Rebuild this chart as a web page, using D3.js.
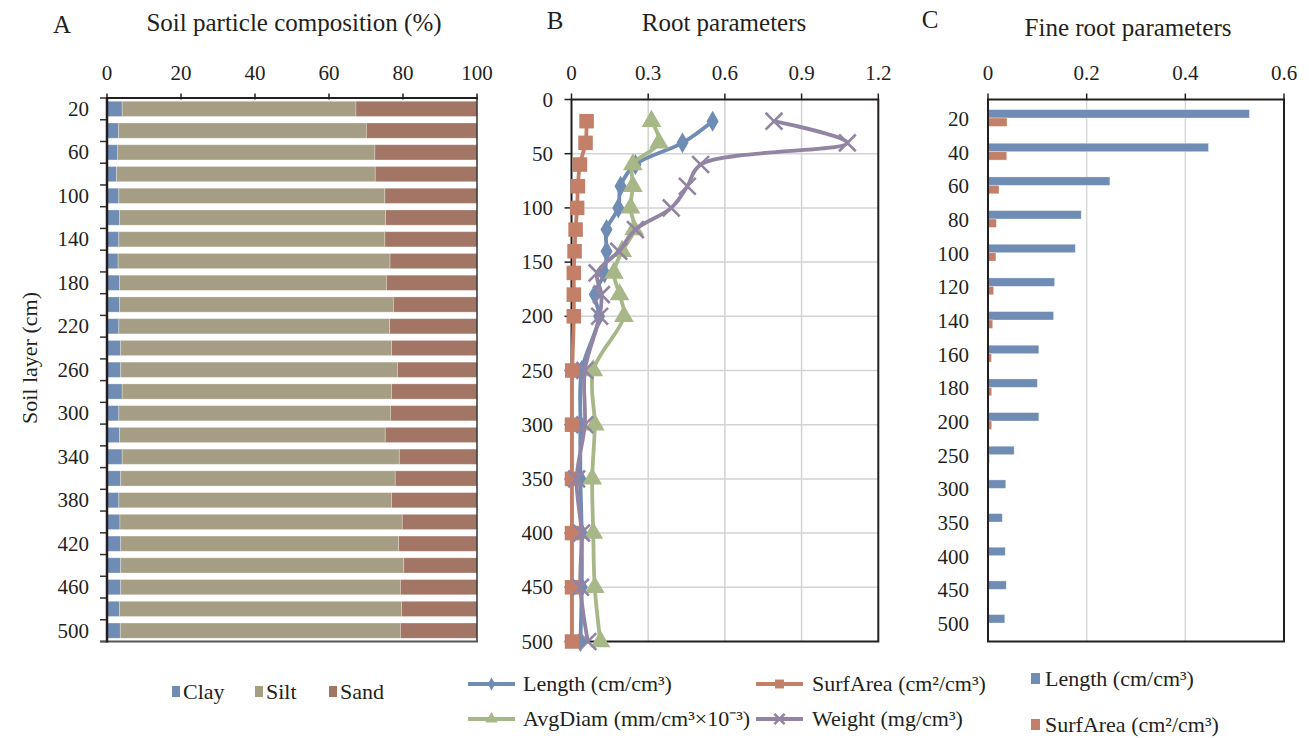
<!DOCTYPE html>
<html>
<head>
<meta charset="utf-8">
<script src="https://cdn.jsdelivr.net/npm/d3@7"></script>
<style>
  body { margin: 0; background: #fff; }
  svg { font-family: 'Liberation Serif', 'Times New Roman', serif; }
  text { fill: #231f20; }
</style>
</head>
<body>
<div class="chart"></div>
<script>
// panel A: soil particle composition
const depthsA = ['20', '40', '60', '80', '100', '120', '140', '160', '180', '200', '220', '240', '260',
  '280', '300', '320', '340', '360', '380', '400', '420', '440', '460', '480', '500'];
const clay = [4.1, 3.1, 2.9, 2.6, 3.2, 3.4, 3.2, 3.0, 3.4, 3.4, 3.2, 3.7, 3.7,
  4.1, 3.2, 3.4, 4.1, 3.7, 3.2, 3.5, 3.7, 3.7, 3.7, 3.4, 3.6];
const silt = [63.2, 67.0, 69.5, 69.9, 71.9, 71.9, 71.9, 73.5, 72.1, 74.0, 73.2, 73.2, 74.8,
  72.8, 73.4, 71.8, 74.9, 74.2, 73.7, 76.3, 75.1, 76.5, 75.6, 76.2, 75.7];
const sand = [32.7, 29.9, 27.6, 27.5, 24.9, 24.7, 24.9, 23.5, 24.5, 22.6, 23.6, 23.1, 21.5,
  23.1, 23.4, 24.8, 21.0, 22.1, 23.1, 20.2, 21.2, 19.8, 20.7, 20.4, 20.7];
const textureNames = ['Clay', 'Silt', 'Sand'];
const pctTicks = [0, 20, 40, 60, 80, 100];

// panel B: root parameters
const depthsB = [20, 40, 60, 80, 100, 120, 140, 160, 180, 200, 250, 300, 350, 400, 450, 500];
const rootLength = [0.552, 0.434, 0.250, 0.192, 0.183, 0.137, 0.137, 0.129, 0.091, 0.108, 0.040, 0.035, 0.035, 0.040, 0.040, 0.035];
const rootSurfArea = [0.059, 0.055, 0.033, 0.025, 0.022, 0.016, 0.012, 0.009, 0.009, 0.009, 0.003, 0.002, 0.002, 0.002, 0.002, 0.002];
const rootAvgDiam = [0.313, 0.342, 0.240, 0.240, 0.231, 0.245, 0.198, 0.166, 0.188, 0.205, 0.085, 0.091, 0.081, 0.085, 0.091, 0.113];
const rootWeight = [0.792, 1.079, 0.505, 0.453, 0.390, 0.250, 0.185, 0.100, 0.117, 0.110, 0.052, 0.052, 0.020, 0.039, 0.035, 0.064];
const rootNames = ['Length (cm/cm³)', 'SurfArea (cm²/cm³)', 'AvgDiam (mm/cm³×10⁻³)', 'Weight (mg/cm³)'];
const rootTicksX = [0, 0.3, 0.6, 0.9, 1.2];
const rootTicksY = [0, 50, 100, 150, 200, 250, 300, 350, 400, 450, 500];

// panel C: fine root parameters
const depthsC = ['20', '40', '60', '80', '100', '120', '140', '160', '180', '200', '250', '300', '350', '400', '450', '500'];
const fineLength = [0.530, 0.447, 0.247, 0.189, 0.177, 0.135, 0.133, 0.103, 0.100, 0.103, 0.053, 0.036, 0.029, 0.035, 0.037, 0.034];
const fineSurfArea = [0.0385, 0.038, 0.0223, 0.017, 0.016, 0.0115, 0.0095, 0.007, 0.0075, 0.0075, 0.003, 0.002, 0.002, 0.002, 0.002, 0.002];
const fineNames = ['Length (cm/cm³)', 'SurfArea (cm²/cm³)'];
const fineTicks = [0, 0.2, 0.4, 0.6];

const blue = '#6f8cb4';
const orange = '#c47f69';
const green = '#a8b787';
const purple = '#9284a3';
const textureColors = [blue, '#a69e84', '#a37565'];

const plotTop = 99.5;
const plotBottom = 641.5;

const svg = d3.select('.chart').append('svg')
  .attr('width', 1309)
  .attr('height', 738);

function title(x, y, txt) {
  svg.append('text').attr('x', x).attr('y', y)
    .attr('text-anchor', 'middle')
    .style('font-size', '25px')
    .text(txt);
}
title(62, 33, 'A');
title(294, 31, 'Soil particle composition (%)');
title(555, 29, 'B');
title(724, 31, 'Root parameters');
title(930, 28, 'C');
title(1128, 36, 'Fine root parameters');

svg.append('text')
  .attr('transform', 'translate(37,358) rotate(-90)')
  .attr('text-anchor', 'middle')
  .style('font-size', '22px')
  .text('Soil layer (cm)');

function topTicks(scale, ticks, fmt) {
  const g = svg.append('g');
  g.selectAll('line').data(ticks).enter().append('line')
    .attr('x1', d => scale(d)).attr('x2', d => scale(d))
    .attr('y1', plotTop - 6).attr('y2', plotTop)
    .attr('stroke', '#231f20').attr('stroke-width', 1.5);
  g.selectAll('text').data(ticks).enter().append('text')
    .attr('x', d => scale(d)).attr('y', 80)
    .attr('text-anchor', 'middle')
    .style('font-size', '21px')
    .text(fmt);
}

// ---------- A ----------
const xA = d3.scaleLinear().domain([0, 100]).range([107, 477]);
const yA = d3.scaleBand().domain(depthsA).range([plotTop - 1.5, plotBottom]).paddingInner(0.3).paddingOuter(0.15);

const stackRows = depthsA.map((d, i) => ({ depth: d, Clay: clay[i], Silt: silt[i], Sand: sand[i] }));
const stacked = d3.stack().keys(textureNames)(stackRows);

svg.append('g').selectAll('g')
  .data(stacked)
  .enter()
  .append('g')
  .attr('fill', (d, i) => textureColors[i])
  .selectAll('rect')
  .data(d => d)
  .enter()
  .append('rect')
  .attr('x', d => xA(d[0]))
  .attr('y', d => yA(d.data.depth))
  .attr('width', d => xA(d[1]) - xA(d[0]))
  .attr('height', yA.bandwidth())
  .attr('stroke', 'rgba(255,255,255,0.35)')
  .attr('stroke-width', 0.8);

const stepA = yA.step();
const boundsA = d3.range(depthsA.length + 1).map(i => yA.range()[0] + i * stepA);
svg.append('g').selectAll('line').data(boundsA).enter().append('line')
  .attr('x1', 100).attr('x2', 107)
  .attr('y1', d => d).attr('y2', d => d)
  .attr('stroke', '#333').attr('stroke-width', 1.5);
svg.append('g').selectAll('text')
  .data(depthsA.filter((d, i) => i % 2 === 0))
  .enter().append('text')
  .attr('x', 89)
  .attr('y', d => yA(d) + yA.bandwidth() / 2 + 7)
  .attr('text-anchor', 'end')
  .style('font-size', '21px')
  .text(d => d);

svg.append('line').attr('x1', 477).attr('x2', 477).attr('y1', plotTop - 1.5).attr('y2', plotBottom)
  .attr('stroke', '#333').attr('stroke-width', 1.5);
svg.append('line').attr('x1', 100).attr('x2', 478).attr('y1', plotBottom).attr('y2', plotBottom)
  .attr('stroke', '#555').attr('stroke-width', 2);
svg.append('line').attr('x1', 107).attr('x2', 107).attr('y1', plotTop - 1.5).attr('y2', plotBottom + 1)
  .attr('stroke', '#231f20').attr('stroke-width', 2.5);
svg.append('line').attr('x1', 106).attr('x2', 478).attr('y1', plotTop - 1.5).attr('y2', plotTop - 1.5)
  .attr('stroke', '#231f20').attr('stroke-width', 2);
topTicks(xA, pctTicks, d => d);

const legA = svg.append('g').selectAll('g')
  .data(textureNames)
  .enter()
  .append('g')
  .attr('transform', (d, i) => `translate(${[172, 255, 329][i]},686)`);
legA.append('rect').attr('width', 8).attr('height', 11)
  .attr('fill', (d, i) => textureColors[i]);
legA.append('text').attr('x', 11).attr('y', 13)
  .style('font-size', '22px')
  .text(d => d);

// ---------- B ----------
const xB = d3.scaleLinear().domain([0, 1.2]).range([571.5, 878.3]);
const yB = d3.scaleLinear().domain([0, 500]).range([plotTop, plotBottom]);

svg.append('g').selectAll('line').data(rootTicksY.slice(1, -1)).enter().append('line')
  .attr('x1', xB(0)).attr('x2', xB(1.2))
  .attr('y1', d => yB(d)).attr('y2', d => yB(d))
  .attr('stroke', '#d3d3d3').attr('stroke-width', 1.5);
svg.append('g').selectAll('line').data(rootTicksX.slice(1, -1)).enter().append('line')
  .attr('x1', d => xB(d)).attr('x2', d => xB(d))
  .attr('y1', plotTop).attr('y2', plotBottom)
  .attr('stroke', '#d3d3d3').attr('stroke-width', 1.5);

svg.append('rect')
  .attr('x', xB(0)).attr('y', plotTop)
  .attr('width', xB(1.2) - xB(0)).attr('height', plotBottom - plotTop)
  .attr('fill', 'none').attr('stroke', '#231f20').attr('stroke-width', 2);
svg.append('g').selectAll('line').data(rootTicksY).enter().append('line')
  .attr('x1', xB(0) - 7).attr('x2', xB(0))
  .attr('y1', d => yB(d)).attr('y2', d => yB(d))
  .attr('stroke', '#231f20').attr('stroke-width', 1.5);
svg.append('g').selectAll('text').data(rootTicksY).enter().append('text')
  .attr('x', 553)
  .attr('y', d => yB(d) + 7)
  .attr('text-anchor', 'end')
  .style('font-size', '21px')
  .text(d => d);
topTicks(xB, rootTicksX, d => d === 0 ? '0' : d3.format('.1f')(d));

const rootSeries = [
  { name: rootNames[0], values: rootLength, color: blue, marker: 'diamond' },
  { name: rootNames[1], values: rootSurfArea, color: orange, marker: 'square' },
  { name: rootNames[2], values: rootAvgDiam, color: green, marker: 'triangle' },
  { name: rootNames[3], values: rootWeight, color: purple, marker: 'cross' }
];

const line = d3.line()
  .x(d => xB(d[0]))
  .y(d => yB(d[1]))
  .curve(d3.curveCatmullRom.alpha(0.5));

function marker(g, type, color, s) {
  if (type === 'cross') {
    g.append('path')
      .attr('d', d3.symbol(d3.symbolTimes, s * s * 1.1)())
      .attr('fill', 'none').attr('stroke', color).attr('stroke-width', 2.6);
  } else {
    const sym = { diamond: d3.symbolDiamond, square: d3.symbolSquare, triangle: d3.symbolTriangle }[type];
    const area = { diamond: s * s * 0.75, square: s * s * 1.25, triangle: s * s * 1.0 }[type];
    g.append('path')
      .attr('d', d3.symbol(sym, area)())
      .attr('fill', color);
  }
}

rootSeries.forEach(s => {
  const pts = s.values.map((v, i) => [v, depthsB[i]]);
  const g = svg.append('g');
  g.append('path')
    .datum(pts)
    .attr('d', line)
    .attr('fill', 'none')
    .attr('stroke', s.color)
    .attr('stroke-width', 3.8);
  g.selectAll('g')
    .data(pts)
    .enter()
    .append('g')
    .attr('transform', d => `translate(${xB(d[0])},${yB(d[1])})`)
    .each(function () { marker(d3.select(this), s.marker, s.color, 13); });
});

const legB = svg.append('g').selectAll('g')
  .data(rootSeries)
  .enter()
  .append('g')
  .attr('transform', (d, i) => `translate(${i % 2 === 0 ? 468 : 756},${i < 2 ? 684 : 719})`);
legB.append('line').attr('x1', 0).attr('x2', 47)
  .attr('stroke', d => d.color).attr('stroke-width', 4);
legB.each(function (d) { marker(d3.select(this).append('g').attr('transform', 'translate(23.5,0)'), d.marker, d.color, 8); });
legB.append('text').attr('x', (d, i) => i % 2 === 0 ? 55 : 56).attr('y', 7)
  .style('font-size', '22px')
  .text(d => d.name);

// ---------- C ----------
const xC = d3.scaleLinear().domain([0, 0.6]).range([988, 1284]);
const yC = d3.scaleBand().domain(depthsC).range([plotTop, plotBottom]).paddingInner(0.5).paddingOuter(0.3);
const yInner = d3.scaleBand().domain(fineNames).range([0, yC.bandwidth()]);
const fineRows = depthsC.map((d, i) => ({ depth: d, values: [fineLength[i], fineSurfArea[i]] }));

svg.append('g').selectAll('line').data(fineTicks.slice(1, -1)).enter().append('line')
  .attr('x1', d => xC(d)).attr('x2', d => xC(d))
  .attr('y1', plotTop).attr('y2', plotBottom)
  .attr('stroke', '#d9d9d9').attr('stroke-width', 1.5);

svg.append('g').selectAll('g')
  .data(fineRows)
  .enter()
  .append('g')
  .attr('transform', d => `translate(0,${yC(d.depth)})`)
  .selectAll('rect')
  .data(d => d.values)
  .enter()
  .append('rect')
  .attr('x', xC(0))
  .attr('y', (d, i) => yInner(fineNames[i]))
  .attr('width', d => xC(d) - xC(0))
  .attr('height', yInner.bandwidth())
  .attr('fill', (d, i) => [blue, orange][i])
  .attr('stroke', 'rgba(255,255,255,0.4)')
  .attr('stroke-width', 0.8);

svg.append('rect')
  .attr('x', xC(0)).attr('y', plotTop)
  .attr('width', xC(0.6) - xC(0)).attr('height', plotBottom - plotTop)
  .attr('fill', 'none').attr('stroke', '#231f20').attr('stroke-width', 2);
svg.append('g').selectAll('text').data(depthsC).enter().append('text')
  .attr('x', 969)
  .attr('y', d => yC(d) + yC.bandwidth() / 2 + 8)
  .attr('text-anchor', 'end')
  .style('font-size', '21px')
  .text(d => d);
topTicks(xC, fineTicks, d => d === 0 ? '0' : d3.format('.1f')(d));

const legC = svg.append('g').selectAll('g')
  .data(fineNames)
  .enter()
  .append('g')
  .attr('transform', (d, i) => `translate(1031,${i === 0 ? 673 : 719})`);
legC.append('rect').attr('width', 9).attr('height', 11)
  .attr('fill', (d, i) => [blue, orange][i]);
legC.append('text').attr('x', 14).attr('y', 13)
  .style('font-size', '22px')
  .text(d => d);
</script>
</body>
</html>
